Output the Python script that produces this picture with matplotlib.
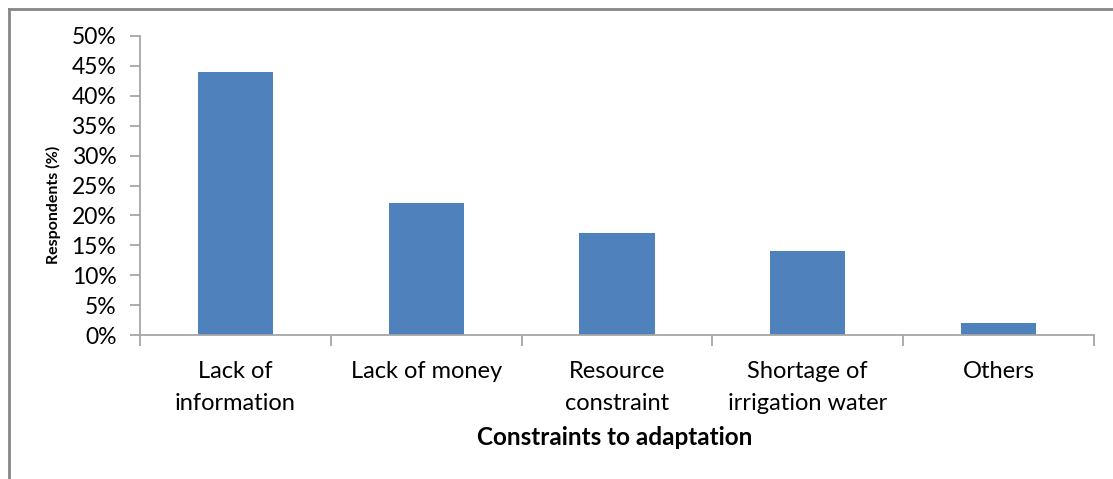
import matplotlib
matplotlib.use("Agg")
import matplotlib.pyplot as plt
from matplotlib.lines import Line2D
from matplotlib.ticker import PercentFormatter

categories = ["Lack of\ninformation", "Lack of money", "Resource\nconstraint",
              "Shortage of\nirrigation water", "Others"]
respondents_pct = [44, 22, 17, 14, 2]
y_ticks = [0, 5, 10, 15, 20, 25, 30, 35, 40, 45, 50]

plt.rcParams["font.family"] = ["Lato", "DejaVu Sans"]

W, H = 1113, 479
fig = plt.figure(figsize=(W / 100, H / 100), dpi=100)

# outer chart frame (only top and left edges visible)
fig.add_artist(Line2D([9 / W, 1], [1 - 9 / H, 1 - 9 / H], transform=fig.transFigure,
                      color="#868686", lw=2))
fig.add_artist(Line2D([9 / W, 9 / W], [0, 1 - 9 / H], transform=fig.transFigure,
                      color="#868686", lw=2))

ax = fig.add_axes([140 / W, 1 - 335 / H, (1094 - 140) / W, (335 - 36) / H])
x = list(range(len(categories)))
ax.bar(x, respondents_pct, width=0.395, color="#4F81BD", zorder=2)

ax.set_xlim(-0.5, len(categories) - 0.5)
ax.set_ylim(0, 50)
ax.set_yticks(y_ticks)
ax.yaxis.set_major_formatter(PercentFormatter(decimals=0))
ax.set_xticks(x)
ax.set_xticklabels(categories, fontsize=17, linespacing=1.62)
ax.set_xticks([i - 0.5 for i in range(len(categories) + 1)], minor=True)
ax.tick_params(axis="x", which="major", length=0, pad=19)
ax.tick_params(axis="x", which="minor", length=8, width=1.3, color="#A6A6A6")
ax.tick_params(axis="y", length=7, width=1.3, color="#A6A6A6", labelsize=16.5, pad=10)

for side in ("top", "right"):
    ax.spines[side].set_visible(False)
for side in ("left", "bottom"):
    ax.spines[side].set_color("#A6A6A6")
    ax.spines[side].set_linewidth(1.3)

ax.set_xlabel("Constraints to adaptation", fontsize=17.5, fontweight="bold", va="center")
ax.xaxis.set_label_coords(0.498, -0.344)
ax.set_ylabel("Respondents (%)", fontsize=11.5, fontweight="bold", va="center")
ax.yaxis.set_label_coords(-0.091, 0.435)

fig.savefig("out.png", dpi=100)
